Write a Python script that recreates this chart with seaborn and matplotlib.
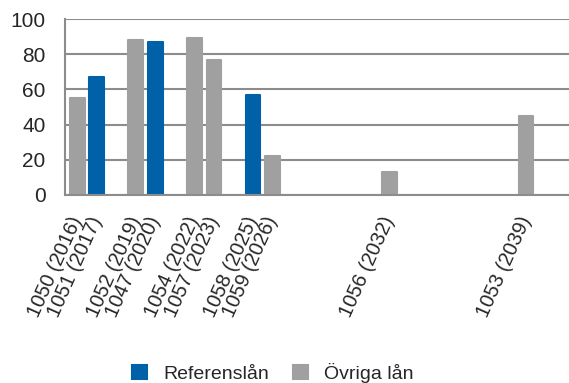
import matplotlib
matplotlib.use("Agg")
import matplotlib.pyplot as plt
import seaborn as sns
import pandas as pd

# loan names, maturity year, share and type
loans = ["1050", "1051", "1052", "1047", "1054", "1057", "1058", "1059", "1056", "1053"]
years = [2016, 2017, 2019, 2020, 2022, 2023, 2025, 2026, 2032, 2039]
values = [55, 67, 88, 87, 89, 77, 57, 22, 13, 45]
types = ["Övriga lån", "Referenslån", "Övriga lån", "Referenslån", "Övriga lån",
         "Övriga lån", "Referenslån", "Övriga lån", "Övriga lån", "Övriga lån"]

df = pd.DataFrame({"loan": loans, "year": years, "value": values, "typ": types})

sns.set_style("white")
plt.rcParams['font.family'] = ['Liberation Sans', 'DejaVu Sans']

fig = plt.figure(figsize=(5.69, 3.83), dpi=100)
ax = fig.add_axes([0.114, 0.491, 0.886, 0.459])

palette = {"Referenslån": "#0061A8", "Övriga lån": "#A0A0A0"}
sns.barplot(data=df, x="year", y="value", hue="typ", native_scale=True,
            hue_order=["Referenslån", "Övriga lån"], palette=palette,
            dodge=False, width=0.76, saturation=1, ax=ax, legend=True)

# soften the bar corners a little
for p in ax.patches:
    p.set_edgecolor(p.get_facecolor())
    p.set_linewidth(1.5)
    p.set_joinstyle("round")

ax.set_xlim(2015.36, 2041.2)
ax.set_ylim(0, 100)
ax.set_yticks([0, 20, 40, 60, 80, 100])
ax.yaxis.grid(True, color="#8c8c8c", linewidth=1.5)
ax.set_axisbelow(True)
for s in ["top", "right"]:
    ax.spines[s].set_visible(False)
for s in ["left", "bottom"]:
    ax.spines[s].set_color("#8c8c8c")
    ax.spines[s].set_linewidth(1.5)

ax.set_xticks(years)
ax.set_xticklabels([f"{l} ({y})" for l, y in zip(loans, years)],
                   rotation=66, ha="right", va="center", rotation_mode="anchor",
                   fontsize=14.5)
ax.tick_params(axis="x", length=0, pad=16)
ax.tick_params(axis="y", length=0, pad=14, labelsize=15)
ax.set_xlabel("")
ax.set_ylabel("")

h, l = ax.get_legend_handles_labels()
ax.legend(h, l, loc="center", bbox_to_anchor=(0.413, -1.01), ncol=2,
          frameon=False, fontsize=14, handlelength=0.75, handleheight=0.75,
          columnspacing=1.25, handletextpad=0.85)

fig.savefig("out.png", dpi=100)
